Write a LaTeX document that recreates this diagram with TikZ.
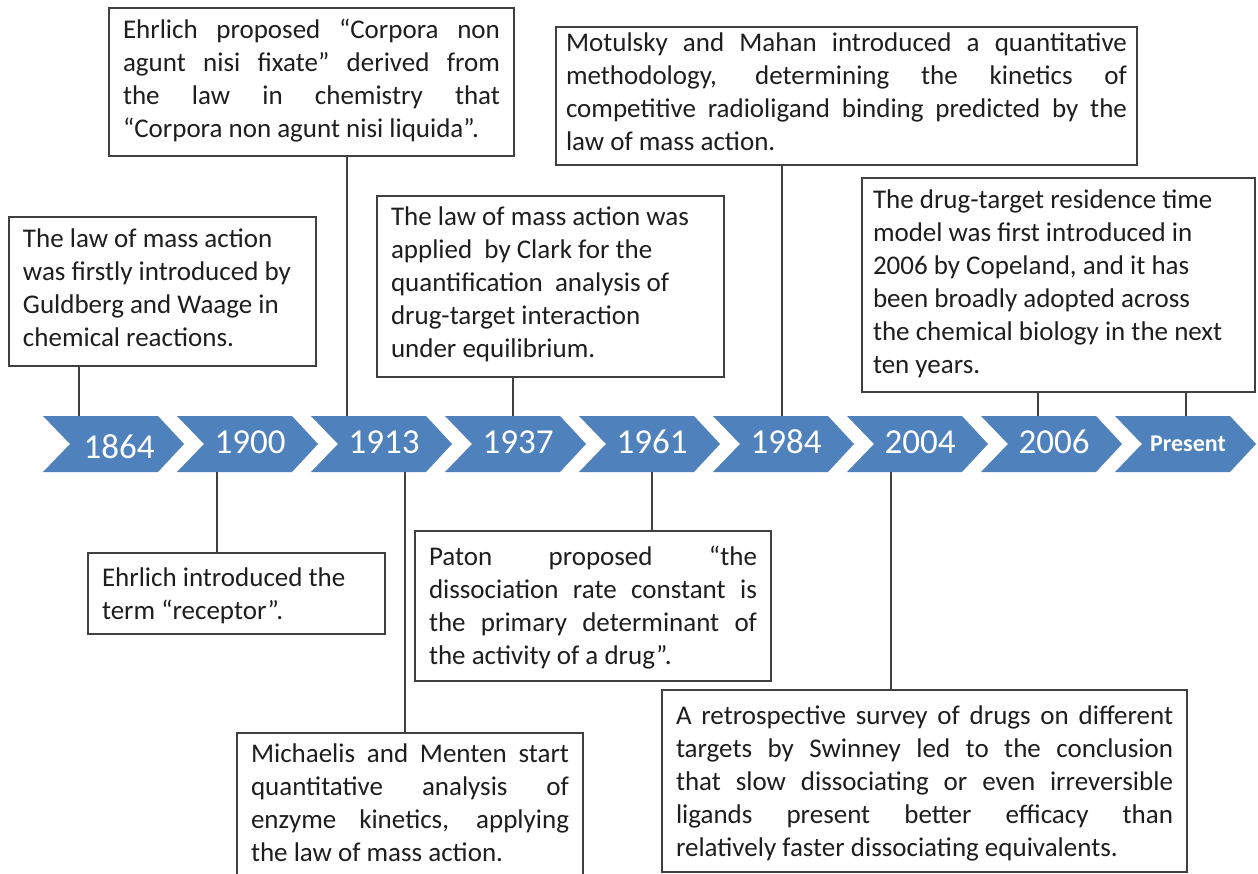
\documentclass[tikz,border=0pt]{standalone}
\usepackage{fontspec}
\setmainfont{Carlito}
\definecolor{chev}{RGB}{79,129,189}
\definecolor{ink}{RGB}{30,30,30}
\definecolor{edge}{RGB}{64,64,64}
\newcommand\jl[1]{\makebox[\linewidth][s]{#1}\\}
\newcommand\mybox[8]{% name,x,y,w,h,baseline offset,padding,text
  \node[tbox, inner xsep=#7pt] (#1) at (#2,#3)
    {\parbox[t][#5pt][t]{\dimexpr#4pt-#7pt-#7pt\relax}{\rule{0pt}{#6pt}#8}};}
\tikzset{
  tbox/.style={draw=edge, line width=1.3pt, fill=white, anchor=north west,
    inner ysep=0pt, outer sep=0pt, text=ink, font=\fontsize{27}{33}\selectfont},
  conn/.style={draw=edge, line width=1.3pt},
  yr/.style={text=white, font=\fontsize{35}{40}\selectfont, inner sep=0pt, anchor=base},
  yrb/.style={text=white, font=\fontsize{24}{28}\selectfont\bfseries, inner sep=0pt, anchor=base},
}
\begin{document}
\begin{tikzpicture}[x=1pt,y=-1pt]
\useasboundingbox (0,0) rectangle (1258,874);
\clip (0,0) rectangle (1258,874);
\fill[white] (0,0) rectangle (1258,874);
% chevrons
\foreach \i in {0,...,8}{
  \fill[chev] (43+134*\i,416) -- ++(115,0) -- ++(26,28) -- ++(-26,28) -- ++(-115,0) -- ++(27,-28) -- cycle;
}
\node[yr] (y1864) at (119,458) {1864};
\node[yr] (y1900) at (250,453) {1900};
\node[yr] (y1913) at (384,453) {1913};
\node[yr] (y1937) at (518,453) {1937};
\node[yr] (y1961) at (652,453) {1961};
\node[yr] (y1984) at (786,453) {1984};
\node[yr] (y2004) at (920,453) {2004};
\node[yr] (y2006) at (1054,453) {2006};
\node[yrb] (ypres) at (1188,451) {Present};
% connector end points on the chevrons
\coordinate (u1864) at (79,416);
\coordinate (u1913) at (347,416);
\coordinate (u1937) at (513,416);
\coordinate (u1984) at (782,416);
\coordinate (u2006) at (1038,416);
\coordinate (upres) at (1186,416);
\coordinate (d1900) at (217,472);
\coordinate (d1913) at (405,472);
\coordinate (d1961) at (652,472);
\coordinate (d2004) at (891,472);
% boxes
\mybox{b1864}{9}{217}{307}{149}{31}{14}{The law of mass action\\was firstly introduced by\\Guldberg and Waage in\\chemical reactions.}
\mybox{b1913u}{109}{8}{405}{148}{31}{14}{\jl{Ehrlich proposed “Corpora non}\jl{agunt nisi fixate” derived from}\jl{the law in chemistry that}“Corpora non agunt nisi liquida”.}
\mybox{b1937}{377}{196}{347}{181}{30}{14}{The law of mass action was\\applied\ \ by Clark for the\\quantification\ \ analysis of\\drug-target interaction\\under equilibrium.}
\mybox{b1984}{556}{27}{581}{138}{25}{10}{\jl{Motulsky and Mahan introduced a quantitative}\jl{methodology, determining the kinetics of}\jl{competitive radioligand binding predicted by the}law of mass action.}
\mybox{b2006}{862}{178}{393}{214}{31}{11}{The drug-target residence time\\model was first introduced in\\2006 by Copeland, and it has\\been broadly adopted across\\the chemical biology in the next\\ten years.}
\mybox{b1900}{88}{553}{297}{81}{33}{14}{Ehrlich introduced the\\term “receptor”.}
\mybox{b1961}{415}{531}{356}{150}{34}{14}{\jl{Paton proposed “the}\jl{dissociation rate constant is}\jl{the primary determinant of}the activity of a drug”.}
\mybox{b2004}{662}{690}{525}{182}{34}{14}{\jl{A retrospective survey of drugs on different}\jl{targets by Swinney led to the conclusion}\jl{that slow dissociating or even irreversible}\jl{ligands present better efficacy than}relatively faster dissociating equivalents.}
\mybox{b1913d}{237}{733}{346}{170}{29}{14}{\jl{Michaelis and Menten start}\jl{quantitative analysis of}\jl{enzyme kinetics, applying}the law of mass action.}
% connectors
\draw[conn] (u1864) -- (u1864 |- b1864.south);
\draw[conn] (u1913) -- (u1913 |- b1913u.south);
\draw[conn] (u1937) -- (u1937 |- b1937.south);
\draw[conn] (u1984) -- (u1984 |- b1984.south);
\draw[conn] (u2006) -- (u2006 |- b2006.south);
\draw[conn] (upres) -- (upres |- b2006.south);
\draw[conn] (d1900) -- (d1900 |- b1900.north);
\draw[conn] (d1913) -- (d1913 |- b1913d.north);
\draw[conn] (d1961) -- (d1961 |- b1961.north);
\draw[conn] (d2004) -- (d2004 |- b2004.north);
\end{tikzpicture}
\end{document}
